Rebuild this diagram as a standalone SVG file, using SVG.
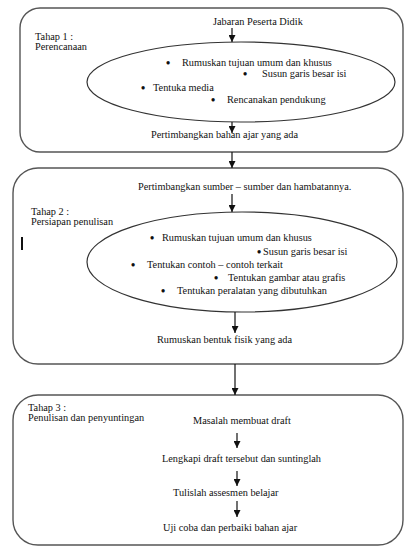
<svg xmlns="http://www.w3.org/2000/svg" width="405" height="546" viewBox="0 0 405 546">
<defs>
<marker id="ah" viewBox="0 0 10 10" refX="10" refY="5" markerWidth="7" markerHeight="7" orient="auto" markerUnits="userSpaceOnUse">
<path d="M0,0 L10,5 L0,10 z" fill="#111"/>
</marker>
</defs>
<style>
.box{fill:#fff;stroke:#555;stroke-width:1.4}
.ell{fill:#fff;stroke:#333;stroke-width:1.2}
text{font-family:"Liberation Serif","Times New Roman",serif;font-size:10.3px;fill:#111}
.b{font-size:12px;font-weight:bold}
.con{stroke:#111;stroke-width:1.2;fill:none;marker-end:url(#ah)}
</style>
<rect width="405" height="546" fill="#fff"/>
<g id="tahap1">
<rect class="box" x="20" y="8" width="383" height="144" rx="20" ry="20"/>
<text x="35" y="40">Tahap 1 :</text>
<text x="35" y="50">Perencanaan</text>
<text x="213" y="25">Jabaran Peserta Didik</text>
<text x="151" y="138">Pertimbangkan bahan ajar yang ada</text>
</g>
<g id="ellipse1">
<ellipse class="ell" cx="241" cy="82" rx="154" ry="40"/>
<text class="b" x="166" y="67">•</text><text x="182" y="66">Rumuskan tujuan umum dan khusus</text>
<text class="b" x="243" y="78">•</text><text x="262" y="77">Susun garis besar isi</text>
<text class="b" x="141" y="92">•</text><text x="153" y="91">Tentuka media</text>
<text class="b" x="211" y="104">•</text><text x="227" y="103">Rencanakan pendukung</text>
</g>
<g id="tahap2">
<rect class="box" x="13" y="168" width="390" height="196" rx="25" ry="25"/>
<text x="138" y="190">Pertimbangkan sumber – sumber dan hambatannya.</text>
<text x="31" y="215">Tahap 2 :</text>
<text x="31" y="225">Persiapan penulisan</text>
<rect x="21" y="237" width="2" height="13" fill="#111"/>
<text x="157" y="343">Rumuskan  bentuk fisik yang ada</text>
</g>
<g id="ellipse2">
<ellipse class="ell" cx="242" cy="262" rx="155" ry="50"/>
<text class="b" x="150" y="242">•</text><text x="162" y="241">Rumuskan tujuan umum dan khusus</text>
<text class="b" x="257" y="256">•</text><text x="263" y="255">Susun garis besar isi</text>
<text class="b" x="131" y="269">•</text><text x="147" y="268">Tentukan contoh – contoh terkait</text>
<text class="b" x="214" y="282">•</text><text x="228" y="281">Tentukan gambar atau grafis</text>
<text class="b" x="161" y="295">•</text><text x="177" y="294">Tentukan peralatan yang dibutuhkan</text>
</g>
<g id="tahap3">
<rect class="box" x="13" y="395" width="390" height="150" rx="25" ry="25"/>
<text x="28" y="411">Tahap 3 :</text>
<text x="28" y="421">Penulisan dan penyuntingan</text>
<text x="193" y="424">Masalah membuat draft</text>
<text x="162" y="462">Lengkapi draft tersebut dan suntinglah</text>
<text x="173" y="496">Tulislah assesmen belajar</text>
<text x="163" y="531">Uji coba dan perbaiki bahan ajar</text>
</g>
<g id="connectors">
<line class="con" x1="232" y1="28" x2="232" y2="42"/>
<line class="con" x1="232" y1="122" x2="232" y2="133"/>
<line class="con" x1="232" y1="152" x2="232" y2="168"/>
<line class="con" x1="232" y1="194" x2="232" y2="212"/>
<line class="con" x1="235" y1="312" x2="235" y2="333"/>
<line class="con" x1="235" y1="364" x2="235" y2="395"/>
<line class="con" x1="237" y1="433" x2="237" y2="448"/>
<line class="con" x1="237" y1="471" x2="237" y2="486"/>
<line class="con" x1="237" y1="501" x2="237" y2="517"/>
</g>
</svg>
